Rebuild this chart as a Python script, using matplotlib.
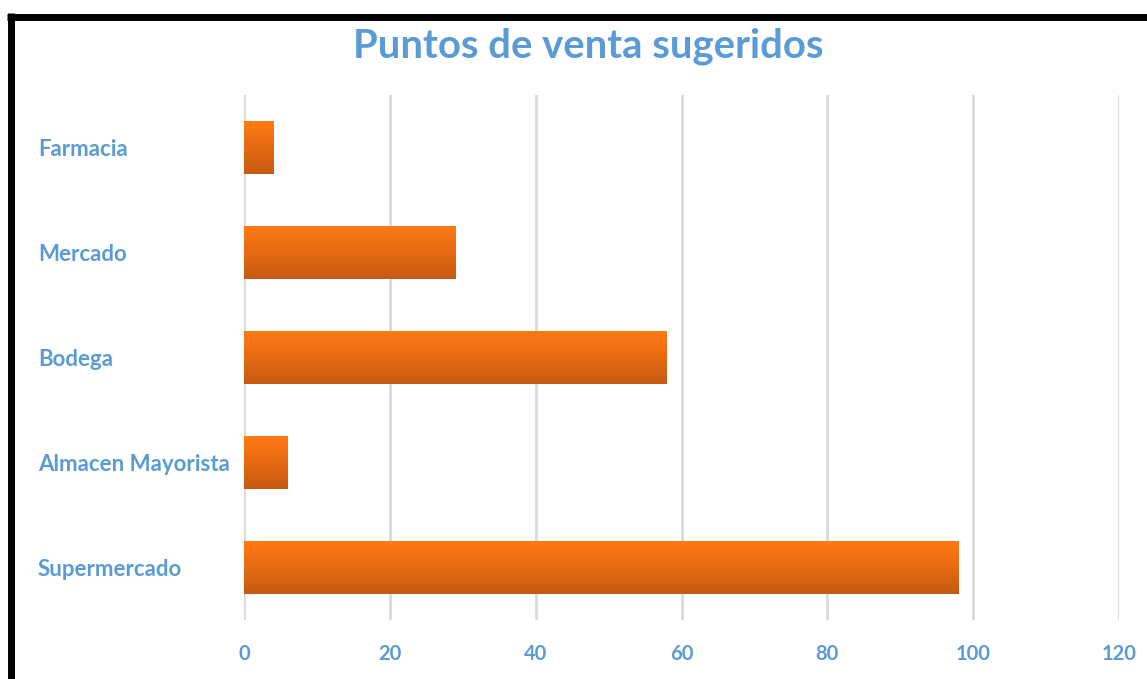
import matplotlib
matplotlib.use("Agg")
import matplotlib.pyplot as plt
import numpy as np
from matplotlib.lines import Line2D
from matplotlib.colors import LinearSegmentedColormap
from matplotlib.transforms import blended_transform_factory

categories = ["Farmacia", "Mercado", "Bodega", "Almacen Mayorista", "Supermercado"]
values = [4, 29, 58, 6, 98]
xticks = [0, 20, 40, 60, 80, 100, 120]

BLUE = "#5B9BD5"
FONT = "Lato"

fig = plt.figure(figsize=(11.47, 6.79), dpi=100)
W, H = 1147, 679
ax = fig.add_axes([244 / W, 1 - 620 / H, 875 / W, 525 / H])

ypos = np.arange(len(categories))
bars = ax.barh(ypos, values, height=0.5, color="#E46C0A", zorder=3)

cmap = LinearSegmentedColormap.from_list("g", ["#C55A11", "#E66A12", "#FF7A14"])
grad = np.linspace(0, 1, 256).reshape(-1, 1)
for b in bars:
    x0, y0 = b.get_x(), b.get_y()
    w, h = b.get_width(), b.get_height()
    im = ax.imshow(grad, cmap=cmap, aspect="auto", extent=(x0, x0 + w, y0 + h, y0),
                   origin="lower", zorder=4)
    im.set_clip_path(b)

ax.set_xlim(0, 120)
ax.set_ylim(len(categories) - 0.5, -0.5)
ax.set_xticks(xticks)
ax.set_xticklabels([str(t) for t in xticks])
ax.xaxis.grid(True, color="#D9D9D9", linewidth=2, zorder=0)
ax.set_axisbelow(True)
for s in ax.spines.values():
    s.set_visible(False)
ax.tick_params(axis="both", length=0)
ax.tick_params(axis="x", pad=17, labelcolor=BLUE, labelsize=14.5)
for lab in ax.get_xticklabels():
    lab.set_fontfamily(FONT)
    lab.set_fontweight("bold")

ax.set_yticks(ypos)
ax.set_yticklabels([])
tr = blended_transform_factory(fig.transFigure, ax.transData)
for y, c in zip(ypos, categories):
    ax.text(38 / W, y, c, transform=tr, ha="left", va="center_baseline", color=BLUE,
            fontsize=16, fontweight="bold", fontfamily=FONT)

fig.text(588 / W, 1 - 46 / H, "Puntos de venta sugeridos", ha="center", va="center",
         color=BLUE, fontsize=28.8, fontweight="bold", fontfamily=FONT)

# black frame (top and left edges)
fig.add_artist(Line2D([7 / W, 1.0], [1 - 16.5 / H, 1 - 16.5 / H], transform=fig.transFigure,
                      color="black", linewidth=5.0, solid_capstyle="butt"))
fig.add_artist(Line2D([10.5 / W, 10.5 / W], [0, 1 - 13 / H], transform=fig.transFigure,
                      color="black", linewidth=5.0, solid_capstyle="butt"))

fig.savefig("out.png", dpi=100)
